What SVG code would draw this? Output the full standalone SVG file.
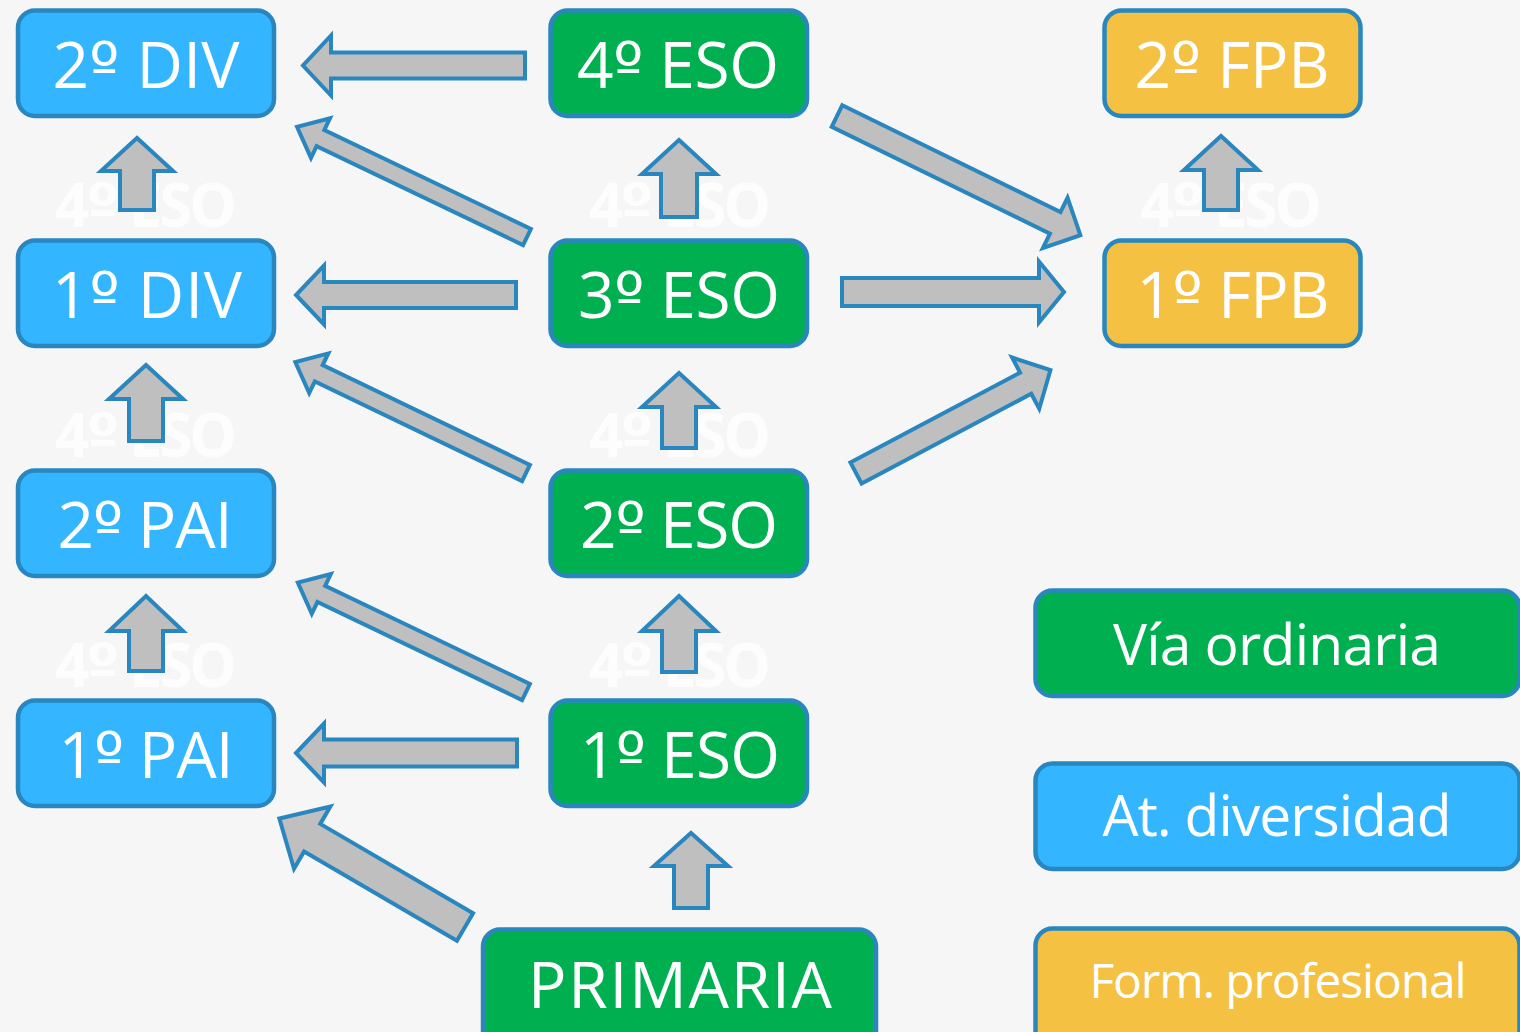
<svg xmlns="http://www.w3.org/2000/svg" width="1520" height="1032" viewBox="0 0 1520 1032">
<style>
.bg{fill:#f6f6f6}
.ghost{font-family:"Open Sans","Liberation Sans",Arial,sans-serif;font-weight:bold;font-size:60px;fill:#ffffff;fill-opacity:0.8;text-anchor:middle}
.arr{fill:#bfbfbf;stroke:#2986be;stroke-width:4;stroke-linejoin:miter}
.box{stroke:#2986be;stroke-width:4.5}
.blue{fill:#33b5ff}
.green{fill:#00b050}
.orange{fill:#f4c142}
.lbl{font-family:"Open Sans","Liberation Sans",Arial,sans-serif;font-size:64px;fill:#ffffff;text-anchor:middle}
.leg{font-family:"Open Sans","Liberation Sans",Arial,sans-serif;font-size:57px;fill:#ffffff;text-anchor:middle}
.o{font-family:"DejaVu Sans",sans-serif}
</style>
<rect class="bg" x="0" y="0" width="1520" height="1032"/>
<g id="ghosts">
<text class="ghost" x="146" y="227" textLength="182">4<tspan class="o">º</tspan> ESO</text>
<text class="ghost" x="146" y="457" textLength="182">4<tspan class="o">º</tspan> ESO</text>
<text class="ghost" x="146" y="687" textLength="182">4<tspan class="o">º</tspan> ESO</text>
<text class="ghost" x="680" y="227" textLength="182">4<tspan class="o">º</tspan> ESO</text>
<text class="ghost" x="680" y="457" textLength="182">4<tspan class="o">º</tspan> ESO</text>
<text class="ghost" x="680" y="687" textLength="182">4<tspan class="o">º</tspan> ESO</text>
<text class="ghost" x="1231" y="227" textLength="182">4<tspan class="o">º</tspan> ESO</text>
</g>
<g id="connectors">
<path class="arr" d="M525,52.5 H331 V35.5 L303,65.5 L331,95.5 V78.5 H525 Z"/>
<path class="arr" d="M516,282 H324 V265.5 L296,295 L324,324.5 V308 H516 Z"/>
<path class="arr" d="M517,739.5 H324 V723.5 L296,753 L324,782.5 V766.5 H517 Z"/>
<path class="arr" d="M842,278 H1039 V261.5 L1064,292 L1039,322.5 V306 H842 Z"/>
<path class="arr" transform="translate(527,237) rotate(205.6)" d="M0,-9 H229 V-22 L255,0 L229,22 V9 H0 Z"/>
<path class="arr" transform="translate(526,473) rotate(205.7)" d="M0,-9 H230 V-22 L256,0 L230,22 V9 H0 Z"/>
<path class="arr" transform="translate(526,692) rotate(205.6)" d="M0,-9 H227 V-22 L253,0 L227,22 V9 H0 Z"/>
<path class="arr" transform="translate(465,927) rotate(210.3)" d="M0,-16 H177 V-36 L215,0 L177,36 V16 H0 Z"/>
<path class="arr" transform="translate(837,116) rotate(26.1)" d="M0,-12 H243 V-28 L271,0 L243,28 V12 H0 Z"/>
<path class="arr" transform="translate(856,473) rotate(-27.9)" d="M0,-12 H192 V-29 L220,0 L192,29 V12 H0 Z"/>
<path class="arr" d="M120,210 V171 H101 L137,138 L173,171 H154 V210 Z"/>
<path class="arr" d="M129,441 V399 H109 L146,365 L183,399 H163 V441 Z"/>
<path class="arr" d="M129,671 V631 H109 L146,596 L183,631 H163 V671 Z"/>
<path class="arr" d="M661,217 V174 H642 L679,140 L716,174 H697 V217 Z"/>
<path class="arr" d="M662,448 V407 H642 L679,373 L716,407 H696 V448 Z"/>
<path class="arr" d="M662,672 V631 H642 L679,596 L716,631 H696 V672 Z"/>
<path class="arr" d="M674,908 V866 H654 L691,833 L728,866 H708 V908 Z"/>
<path class="arr" d="M1204,210 V170 H1184 L1221,136 L1258,170 H1238 V210 Z"/>
</g>
<g id="n-2div"><rect class="box blue" x="18" y="10.5" width="256" height="105.5" rx="17"/><text class="lbl" x="146" y="88" textLength="187">2<tspan class="o">º</tspan> DIV</text></g>
<g id="n-1div"><rect class="box blue" x="18" y="240.5" width="256" height="105.5" rx="17"/><text class="lbl" x="147" y="318" textLength="190">1<tspan class="o">º</tspan> DIV</text></g>
<g id="n-2pai"><rect class="box blue" x="18" y="470.5" width="256" height="105.5" rx="17"/><text class="lbl" x="145" y="548" textLength="175">2<tspan class="o">º</tspan> PAI</text></g>
<g id="n-1pai"><rect class="box blue" x="18" y="700.5" width="256" height="105.5" rx="17"/><text class="lbl" x="146" y="778" textLength="175">1<tspan class="o">º</tspan> PAI</text></g>
<g id="n-4eso"><rect class="box green" x="550.5" y="10.5" width="256.5" height="105.5" rx="17"/><text class="lbl" x="678" y="88" textLength="202">4<tspan class="o">º</tspan> ESO</text></g>
<g id="n-3eso"><rect class="box green" x="550.5" y="240.5" width="256.5" height="105.5" rx="17"/><text class="lbl" x="679" y="318" textLength="202">3<tspan class="o">º</tspan> ESO</text></g>
<g id="n-2eso"><rect class="box green" x="550.5" y="470.5" width="256.5" height="105.5" rx="17"/><text class="lbl" x="679" y="548" textLength="198">2<tspan class="o">º</tspan> ESO</text></g>
<g id="n-1eso"><rect class="box green" x="550.5" y="700.5" width="256.5" height="105.5" rx="17"/><text class="lbl" x="680" y="778" textLength="200">1<tspan class="o">º</tspan> ESO</text></g>
<g id="n-primaria"><rect class="box green" x="483" y="929.5" width="393" height="125" rx="17"/><text class="lbl" x="680" y="1008" textLength="304">PRIMARIA</text></g>
<g id="n-2fpb"><rect class="box orange" x="1104.5" y="10.5" width="256" height="105.5" rx="17"/><text class="lbl" x="1232" y="88" textLength="195">2<tspan class="o">º</tspan> FPB</text></g>
<g id="n-1fpb"><rect class="box orange" x="1104.5" y="240.5" width="256" height="105.5" rx="17"/><text class="lbl" x="1233" y="318" textLength="193">1<tspan class="o">º</tspan> FPB</text></g>
<g id="legend-ordinaria"><rect class="box green" x="1035.5" y="590.5" width="484" height="105.5" rx="17"/><text class="leg" x="1277" y="665" textLength="328">Vía ordinaria</text></g>
<g id="legend-diversidad"><rect class="box blue" x="1035.5" y="763.5" width="484" height="105.5" rx="17"/><text class="leg" x="1277" y="836" textLength="349">At. diversidad</text></g>
<g id="legend-fp"><rect class="box orange" x="1035.5" y="928.5" width="484" height="125" rx="17"/><text class="leg" x="1278" y="998" style="font-size:48px" textLength="377">Form. profesional</text></g>
</svg>
